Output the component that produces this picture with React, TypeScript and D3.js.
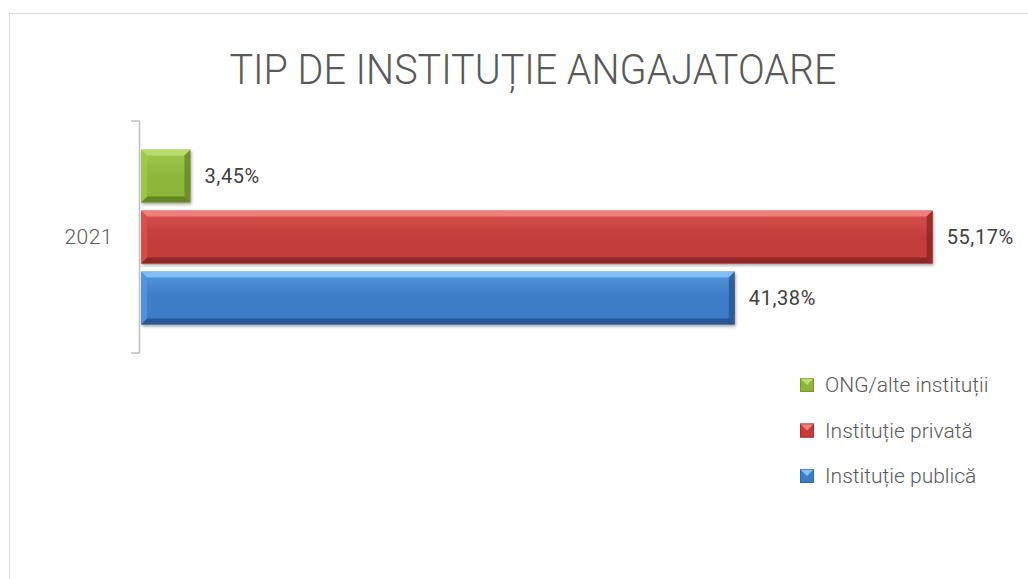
import React from 'react';
import * as d3 from 'd3';

// chart values
const categories = ['2021'];
const seriesNames = ['ONG/alte instituții', 'Instituție privată', 'Instituție publică'];
const seriesValues = [3.45, 55.17, 41.38];
const valueLabels = ['3,45%', '55,17%', '41,38%'];
const title = 'TIP DE INSTITUȚIE ANGAJATOARE';

const palette = [
  { base: '#8db63b', light: '#bedd73', dark: '#5f7e22', mid: '#a2c94f' },
  { base: '#c43d3b', light: '#f38381', dark: '#842221', mid: '#d9524f' },
  { base: '#3d7cc6', light: '#86c1f4', dark: '#244f8a', mid: '#5596dd' },
];

const W = 1028;
const H = 579;

const App = () => {
  const y = d3.scaleBand<string>().domain(categories).range([121, 353]);
  const inner = d3
    .scaleBand<string>()
    .domain(seriesNames)
    .range([0, y.bandwidth()])
    .paddingInner(0.131)
    .paddingOuter(0.467);
  const x = d3.scaleLinear().domain([0, 60]).range([141, 1002]);
  const bevel = 6;

  const legendY = d3.scaleLinear().domain([0, 2]).range([385, 476]);

  return (
    <svg
      width={W}
      height={H}
      style={{ position: 'absolute', left: 0, top: 0, background: '#fff' }}
      fontFamily="Roboto, 'Open Sans', sans-serif"
    >
      <defs>
        <filter id="shadow" x="-10%" y="-20%" width="120%" height="150%">
          <feDropShadow dx="1" dy="2" stdDeviation="1.4" floodColor="#000" floodOpacity="0.35" />
        </filter>
        {palette.map((c, i) => (
          <linearGradient key={i} id={`g${i}`} x1="0" y1="0" x2="0" y2="1">
            <stop offset="0" stopColor={c.mid} />
            <stop offset="0.5" stopColor={c.base} />
            <stop offset="1" stopColor={c.base} />
          </linearGradient>
        ))}
      </defs>

      {/* chart area frame */}
      <rect x={9.5} y={13.5} width={W + 20} height={H + 20} fill="#fff" stroke="#d9d9d9" strokeWidth={1} />

      {/* title */}
      <text
        x={533}
        y={84}
        textAnchor="middle"
        fontSize={42}
        fontWeight={300}
        fill="#595959"
        textLength={607}
        lengthAdjust="spacingAndGlyphs"
      >
        {title}
      </text>

      {/* category axis */}
      <g stroke="#bfbfbf" strokeWidth={1.5} fill="none">
        <line x1={139.5} x2={139.5} y1={y.range()[0]} y2={y.range()[1]} />
        {[y.range()[0], y.range()[1]].map((v, i) => (
          <line key={i} x1={131} x2={139.5} y1={v} y2={v} />
        ))}
      </g>
      {categories.map((c) => (
        <text
          key={c}
          x={113}
          y={(y(c) ?? 0) + y.bandwidth() / 2}
          dy="0.35em"
          textAnchor="end"
          fontSize={21}
          fontWeight={300}
          fill="#595959"
          letterSpacing={0.5}
        >
          {c}
        </text>
      ))}

      {/* bars */}
      {categories.map((c) =>
        seriesNames.map((s, i) => {
          const by = (y(c) ?? 0) + (inner(s) ?? 0);
          const bh = inner.bandwidth();
          const x0 = x(0);
          const x1 = x(seriesValues[i]);
          const col = palette[i];
          const b = Math.min(bevel, (x1 - x0) / 2);
          return (
            <g key={s}>
              <rect x={x0} y={by} width={x1 - x0} height={bh} fill={`url(#g${i})`} filter="url(#shadow)" />
              <polygon
                points={`${x0},${by} ${x1},${by} ${x1 - b},${by + b} ${x0 + b},${by + b}`}
                fill={col.light}
                opacity={0.9}
              />
              <polygon
                points={`${x0},${by + bh} ${x1},${by + bh} ${x1 - b},${by + bh - b} ${x0 + b},${by + bh - b}`}
                fill={col.dark}
                opacity={0.85}
              />
              <polygon
                points={`${x1},${by} ${x1},${by + bh} ${x1 - b},${by + bh - b} ${x1 - b},${by + b}`}
                fill={col.dark}
                opacity={0.7}
              />
              <polygon
                points={`${x0},${by} ${x0},${by + bh} ${x0 + b},${by + bh - b} ${x0 + b},${by + b}`}
                fill={col.mid}
                opacity={0.8}
              />
              <text
                x={x1 + 14}
                y={by + bh / 2}
                dy="0.35em"
                fontSize={20}
                fill="#404040"
                letterSpacing={0.6}
              >
                {valueLabels[i]}
              </text>
            </g>
          );
        })
      )}

      {/* legend */}
      {seriesNames.map((s, i) => {
        const cy = legendY(i);
        const col = palette[i];
        const sz = 14;
        const lx = 800;
        const ly = cy - sz / 2;
        return (
          <g key={s}>
            <rect x={lx} y={ly} width={sz} height={sz} fill={col.base} />
            <polygon points={`${lx},${ly} ${lx + sz},${ly} ${lx + sz / 2},${ly + sz / 2}`} fill={col.light} />
            <polygon points={`${lx},${ly + sz} ${lx + sz},${ly + sz} ${lx + sz / 2},${ly + sz / 2}`} fill={col.base} />
            <rect x={lx + 0.5} y={ly + 0.5} width={sz - 1} height={sz - 1} fill="none" stroke={col.dark} strokeOpacity={0.5} />
            <text x={825} y={cy} dy="0.35em" fontSize={21} fontWeight={300} fill="#595959">
              {s}
            </text>
          </g>
        );
      })}
    </svg>
  );
};

export default App;
